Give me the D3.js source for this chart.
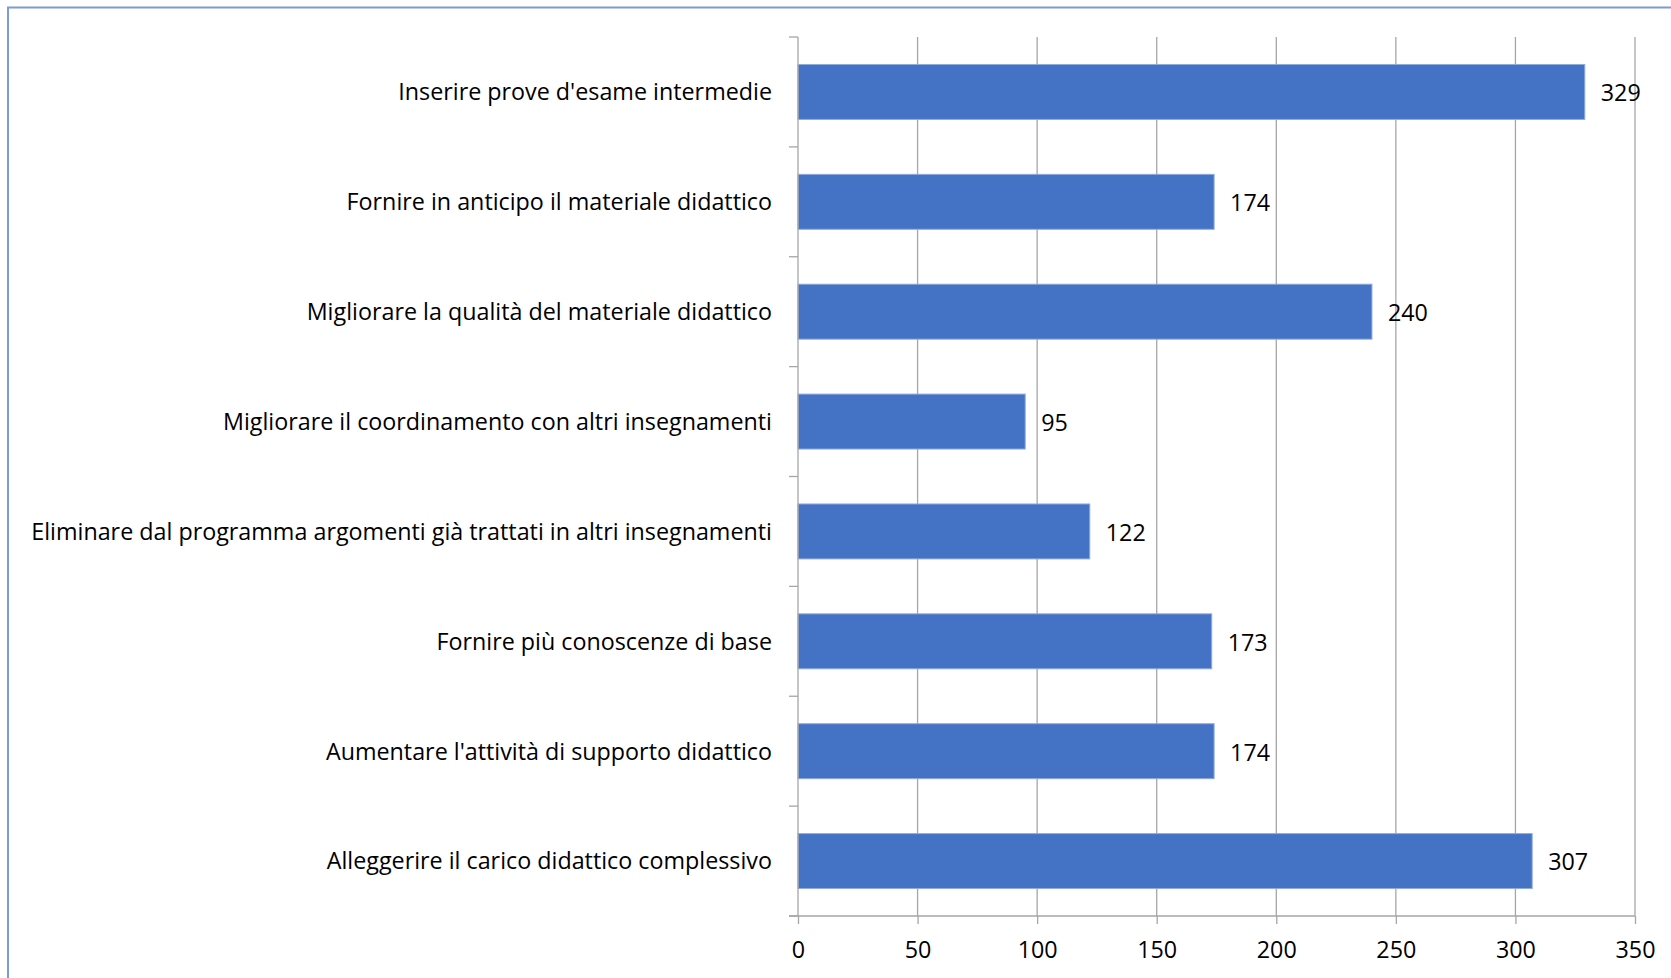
<!DOCTYPE html>
<html>
<head>
<meta charset="utf-8">
<script src="https://cdn.jsdelivr.net/npm/d3@7"></script>
<style>
  body { margin: 0; background: #fff; }
  text { font-family: "Open Sans", sans-serif; fill: #000; }
</style>
</head>
<body>
<div id="chart"></div>
<script>
// Data
var categories = [
  "Inserire prove d'esame intermedie",
  "Fornire in anticipo il materiale didattico",
  "Migliorare la qualità del materiale didattico",
  "Migliorare il coordinamento con altri insegnamenti",
  "Eliminare dal programma argomenti già trattati in altri insegnamenti",
  "Fornire più conoscenze di base",
  "Aumentare l'attività di supporto didattico",
  "Alleggerire il carico didattico complessivo"
];
var values = [329, 174, 240, 95, 122, 173, 174, 307];
var xTicks = [0, 50, 100, 150, 200, 250, 300, 350];

// Dimensions
var width = 1671, height = 978;
var margin = {top: 37, right: 36, bottom: 62, left: 798};
var fontSize = "23.3px";

var svg = d3.select("#chart")
  .append("svg")
    .attr("width", width)
    .attr("height", height);

// outer frame (only left and top edges are visible)
svg.append("rect")
  .attr("x", 8).attr("y", 7.5)
  .attr("width", width + 20).attr("height", height + 20)
  .attr("fill", "none")
  .attr("stroke", "#7b9ad8")
  .attr("stroke-width", 2);

var x = d3.scaleLinear()
  .domain([0, 350])
  .range([margin.left, width - margin.right]);

var y = d3.scaleBand()
  .domain(categories)
  .range([margin.top, height - margin.bottom])
  .paddingInner(0.5)
  .paddingOuter(0.25);

var gridColor = "#a6a6a6";

// vertical gridlines
svg.append("g")
  .selectAll("line")
  .data(xTicks.slice(1))
  .join("line")
    .attr("x1", function(d) { return x(d); })
    .attr("x2", function(d) { return x(d); })
    .attr("y1", margin.top)
    .attr("y2", height - margin.bottom)
    .attr("stroke", gridColor)
    .attr("stroke-width", 1.3);

// bars
svg.append("g")
  .selectAll("rect")
  .data(values)
  .join("rect")
    .attr("x", x(0))
    .attr("y", function(d, i) { return y(categories[i]); })
    .attr("width", function(d) { return x(d) - x(0); })
    .attr("height", y.bandwidth())
    .attr("fill", "#4472c4")
    .attr("stroke", "#8faadc")
    .attr("stroke-width", 1);

// x axis
var xAxis = svg.append("g")
  .attr("transform", "translate(0," + (height - margin.bottom) + ")")
  .call(d3.axisBottom(x).tickValues(xTicks).tickSize(8).tickPadding(17).tickSizeOuter(0));
xAxis.select(".domain").remove();
xAxis.append("line")
  .attr("x1", margin.left - 9).attr("x2", x(350))
  .attr("stroke", gridColor).attr("stroke-width", 1.3);
xAxis.selectAll(".tick line").attr("stroke", gridColor).attr("stroke-width", 1.3);
xAxis.selectAll(".tick text")
  .style("font-family", "'Open Sans', sans-serif")
  .style("font-size", fontSize)
  .attr("fill", "#000");

// y axis line and band-boundary ticks
var bounds = d3.range(categories.length + 1).map(function(i) {
  return margin.top + i * y.step();
});
svg.append("line")
  .attr("x1", x(0)).attr("x2", x(0))
  .attr("y1", margin.top).attr("y2", height - margin.bottom)
  .attr("stroke", gridColor).attr("stroke-width", 1.3);
svg.append("g")
  .selectAll("line")
  .data(bounds)
  .join("line")
    .attr("x1", x(0) - 9).attr("x2", x(0))
    .attr("y1", function(d) { return d; })
    .attr("y2", function(d) { return d; })
    .attr("stroke", gridColor).attr("stroke-width", 1.3);

// category labels
svg.append("g")
  .selectAll("text")
  .data(categories)
  .join("text")
    .attr("x", x(0) - 26)
    .attr("y", function(d) { return y(d) + y.bandwidth() / 2; })
    .attr("dy", "0.36em")
    .attr("text-anchor", "end")
    .style("font-size", fontSize)
    .text(function(d) { return d; });

// value labels
svg.append("g")
  .selectAll("text")
  .data(values)
  .join("text")
    .attr("x", function(d) { return x(d) + 16; })
    .attr("y", function(d, i) { return y(categories[i]) + y.bandwidth() / 2; })
    .attr("dy", "0.4em")
    .style("font-size", fontSize)
    .text(function(d) { return d; });
</script>
</body>
</html>
